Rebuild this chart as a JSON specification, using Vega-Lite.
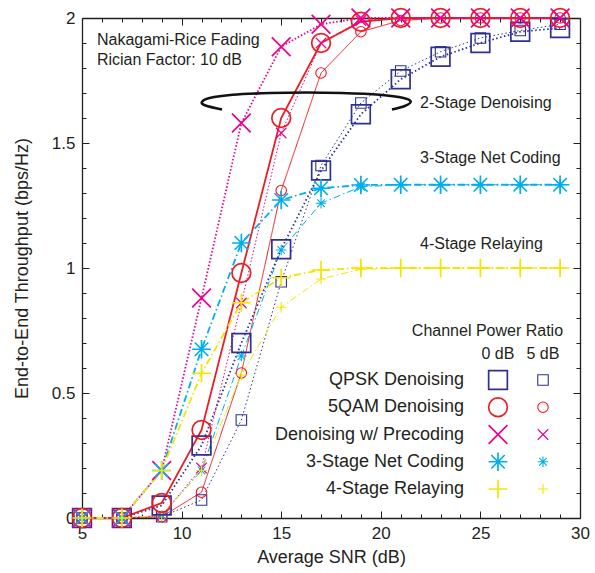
{
  "$schema": "https://vega.github.io/schema/vega-lite/v6.json",
  "width": 498,
  "height": 500,
  "autosize": {"type": "none"},
  "padding": {"left": 82, "top": 18, "right": 15, "bottom": 55},
  "background": "white",
  "config": {
    "view": {"stroke": null},
    "font": "Liberation Sans",
    "axis": {
      "domainColor": "#231f20", "tickColor": "#231f20", "domainWidth": 1.3, "tickWidth": 1,
      "labelColor": "#231f20", "titleColor": "#231f20", "labelFont": "Liberation Sans", "titleFont": "Liberation Sans",
      "labelFontSize": 17, "titleFontSize": 18, "titleFontWeight": "normal", "grid": false, "labelFlush": false, "labelOverlap": false
    },
    "text": {"font": "Liberation Sans", "color": "#231f20", "fontSize": 16}
  },
  "datasets": {
    "tp": [
      {"scheme": "QPSK Denoising", "ratio": "0 dB", "snr": 5, "tp": 0},
      {"scheme": "QPSK Denoising", "ratio": "0 dB", "snr": 7, "tp": 0},
      {"scheme": "QPSK Denoising", "ratio": "0 dB", "snr": 9, "tp": 0.05},
      {"scheme": "QPSK Denoising", "ratio": "0 dB", "snr": 11, "tp": 0.29},
      {"scheme": "QPSK Denoising", "ratio": "0 dB", "snr": 13, "tp": 0.7},
      {"scheme": "QPSK Denoising", "ratio": "0 dB", "snr": 15, "tp": 1.075},
      {"scheme": "QPSK Denoising", "ratio": "0 dB", "snr": 17, "tp": 1.39},
      {"scheme": "QPSK Denoising", "ratio": "0 dB", "snr": 19, "tp": 1.615},
      {"scheme": "QPSK Denoising", "ratio": "0 dB", "snr": 21, "tp": 1.755},
      {"scheme": "QPSK Denoising", "ratio": "0 dB", "snr": 23, "tp": 1.845},
      {"scheme": "QPSK Denoising", "ratio": "0 dB", "snr": 25, "tp": 1.9},
      {"scheme": "QPSK Denoising", "ratio": "0 dB", "snr": 27, "tp": 1.945},
      {"scheme": "QPSK Denoising", "ratio": "0 dB", "snr": 29, "tp": 1.96},
      {"scheme": "QPSK Denoising", "ratio": "5 dB", "snr": 5, "tp": 0},
      {"scheme": "QPSK Denoising", "ratio": "5 dB", "snr": 7, "tp": 0},
      {"scheme": "QPSK Denoising", "ratio": "5 dB", "snr": 9, "tp": 0.005},
      {"scheme": "QPSK Denoising", "ratio": "5 dB", "snr": 11, "tp": 0.072},
      {"scheme": "QPSK Denoising", "ratio": "5 dB", "snr": 13, "tp": 0.392},
      {"scheme": "QPSK Denoising", "ratio": "5 dB", "snr": 15, "tp": 0.945},
      {"scheme": "QPSK Denoising", "ratio": "5 dB", "snr": 17, "tp": 1.41},
      {"scheme": "QPSK Denoising", "ratio": "5 dB", "snr": 19, "tp": 1.66},
      {"scheme": "QPSK Denoising", "ratio": "5 dB", "snr": 21, "tp": 1.788},
      {"scheme": "QPSK Denoising", "ratio": "5 dB", "snr": 23, "tp": 1.865},
      {"scheme": "QPSK Denoising", "ratio": "5 dB", "snr": 25, "tp": 1.92},
      {"scheme": "QPSK Denoising", "ratio": "5 dB", "snr": 27, "tp": 1.95},
      {"scheme": "QPSK Denoising", "ratio": "5 dB", "snr": 29, "tp": 1.975},
      {"scheme": "5QAM Denoising", "ratio": "0 dB", "snr": 5, "tp": 0},
      {"scheme": "5QAM Denoising", "ratio": "0 dB", "snr": 7, "tp": 0},
      {"scheme": "5QAM Denoising", "ratio": "0 dB", "snr": 9, "tp": 0.06},
      {"scheme": "5QAM Denoising", "ratio": "0 dB", "snr": 11, "tp": 0.352},
      {"scheme": "5QAM Denoising", "ratio": "0 dB", "snr": 13, "tp": 0.98},
      {"scheme": "5QAM Denoising", "ratio": "0 dB", "snr": 15, "tp": 1.6},
      {"scheme": "5QAM Denoising", "ratio": "0 dB", "snr": 17, "tp": 1.9},
      {"scheme": "5QAM Denoising", "ratio": "0 dB", "snr": 19, "tp": 1.985},
      {"scheme": "5QAM Denoising", "ratio": "0 dB", "snr": 21, "tp": 2},
      {"scheme": "5QAM Denoising", "ratio": "0 dB", "snr": 23, "tp": 2},
      {"scheme": "5QAM Denoising", "ratio": "0 dB", "snr": 25, "tp": 2},
      {"scheme": "5QAM Denoising", "ratio": "0 dB", "snr": 27, "tp": 2},
      {"scheme": "5QAM Denoising", "ratio": "0 dB", "snr": 29, "tp": 2},
      {"scheme": "5QAM Denoising", "ratio": "5 dB", "snr": 5, "tp": 0},
      {"scheme": "5QAM Denoising", "ratio": "5 dB", "snr": 7, "tp": 0},
      {"scheme": "5QAM Denoising", "ratio": "5 dB", "snr": 9, "tp": 0.005},
      {"scheme": "5QAM Denoising", "ratio": "5 dB", "snr": 11, "tp": 0.103},
      {"scheme": "5QAM Denoising", "ratio": "5 dB", "snr": 13, "tp": 0.58},
      {"scheme": "5QAM Denoising", "ratio": "5 dB", "snr": 15, "tp": 1.31},
      {"scheme": "5QAM Denoising", "ratio": "5 dB", "snr": 17, "tp": 1.78},
      {"scheme": "5QAM Denoising", "ratio": "5 dB", "snr": 19, "tp": 1.945},
      {"scheme": "5QAM Denoising", "ratio": "5 dB", "snr": 21, "tp": 1.99},
      {"scheme": "5QAM Denoising", "ratio": "5 dB", "snr": 23, "tp": 2},
      {"scheme": "5QAM Denoising", "ratio": "5 dB", "snr": 25, "tp": 2},
      {"scheme": "5QAM Denoising", "ratio": "5 dB", "snr": 27, "tp": 2},
      {"scheme": "5QAM Denoising", "ratio": "5 dB", "snr": 29, "tp": 2},
      {"scheme": "Denoising w/ Precoding", "ratio": "0 dB", "snr": 5, "tp": 0},
      {"scheme": "Denoising w/ Precoding", "ratio": "0 dB", "snr": 7, "tp": 0},
      {"scheme": "Denoising w/ Precoding", "ratio": "0 dB", "snr": 9, "tp": 0.19},
      {"scheme": "Denoising w/ Precoding", "ratio": "0 dB", "snr": 11, "tp": 0.88},
      {"scheme": "Denoising w/ Precoding", "ratio": "0 dB", "snr": 13, "tp": 1.58},
      {"scheme": "Denoising w/ Precoding", "ratio": "0 dB", "snr": 15, "tp": 1.885},
      {"scheme": "Denoising w/ Precoding", "ratio": "0 dB", "snr": 17, "tp": 1.975},
      {"scheme": "Denoising w/ Precoding", "ratio": "0 dB", "snr": 19, "tp": 2},
      {"scheme": "Denoising w/ Precoding", "ratio": "0 dB", "snr": 21, "tp": 2},
      {"scheme": "Denoising w/ Precoding", "ratio": "0 dB", "snr": 23, "tp": 2},
      {"scheme": "Denoising w/ Precoding", "ratio": "0 dB", "snr": 25, "tp": 2},
      {"scheme": "Denoising w/ Precoding", "ratio": "0 dB", "snr": 27, "tp": 2},
      {"scheme": "Denoising w/ Precoding", "ratio": "0 dB", "snr": 29, "tp": 2},
      {"scheme": "Denoising w/ Precoding", "ratio": "5 dB", "snr": 5, "tp": 0},
      {"scheme": "Denoising w/ Precoding", "ratio": "5 dB", "snr": 7, "tp": 0},
      {"scheme": "Denoising w/ Precoding", "ratio": "5 dB", "snr": 9, "tp": 0.01},
      {"scheme": "Denoising w/ Precoding", "ratio": "5 dB", "snr": 11, "tp": 0.2},
      {"scheme": "Denoising w/ Precoding", "ratio": "5 dB", "snr": 13, "tp": 0.86},
      {"scheme": "Denoising w/ Precoding", "ratio": "5 dB", "snr": 15, "tp": 1.54},
      {"scheme": "Denoising w/ Precoding", "ratio": "5 dB", "snr": 17, "tp": 1.9},
      {"scheme": "Denoising w/ Precoding", "ratio": "5 dB", "snr": 19, "tp": 1.99},
      {"scheme": "Denoising w/ Precoding", "ratio": "5 dB", "snr": 21, "tp": 2},
      {"scheme": "Denoising w/ Precoding", "ratio": "5 dB", "snr": 23, "tp": 2},
      {"scheme": "Denoising w/ Precoding", "ratio": "5 dB", "snr": 25, "tp": 2},
      {"scheme": "Denoising w/ Precoding", "ratio": "5 dB", "snr": 27, "tp": 2},
      {"scheme": "Denoising w/ Precoding", "ratio": "5 dB", "snr": 29, "tp": 2},
      {"scheme": "3-Stage Net Coding", "ratio": "0 dB", "snr": 5, "tp": 0},
      {"scheme": "3-Stage Net Coding", "ratio": "0 dB", "snr": 7, "tp": 0},
      {"scheme": "3-Stage Net Coding", "ratio": "0 dB", "snr": 9, "tp": 0.19},
      {"scheme": "3-Stage Net Coding", "ratio": "0 dB", "snr": 11, "tp": 0.675},
      {"scheme": "3-Stage Net Coding", "ratio": "0 dB", "snr": 13, "tp": 1.1},
      {"scheme": "3-Stage Net Coding", "ratio": "0 dB", "snr": 15, "tp": 1.272},
      {"scheme": "3-Stage Net Coding", "ratio": "0 dB", "snr": 17, "tp": 1.319},
      {"scheme": "3-Stage Net Coding", "ratio": "0 dB", "snr": 19, "tp": 1.332},
      {"scheme": "3-Stage Net Coding", "ratio": "0 dB", "snr": 21, "tp": 1.333},
      {"scheme": "3-Stage Net Coding", "ratio": "0 dB", "snr": 23, "tp": 1.333},
      {"scheme": "3-Stage Net Coding", "ratio": "0 dB", "snr": 25, "tp": 1.333},
      {"scheme": "3-Stage Net Coding", "ratio": "0 dB", "snr": 27, "tp": 1.333},
      {"scheme": "3-Stage Net Coding", "ratio": "0 dB", "snr": 29, "tp": 1.333},
      {"scheme": "3-Stage Net Coding", "ratio": "5 dB", "snr": 5, "tp": 0},
      {"scheme": "3-Stage Net Coding", "ratio": "5 dB", "snr": 7, "tp": 0},
      {"scheme": "3-Stage Net Coding", "ratio": "5 dB", "snr": 9, "tp": 0.01},
      {"scheme": "3-Stage Net Coding", "ratio": "5 dB", "snr": 11, "tp": 0.19},
      {"scheme": "3-Stage Net Coding", "ratio": "5 dB", "snr": 13, "tp": 0.648},
      {"scheme": "3-Stage Net Coding", "ratio": "5 dB", "snr": 15, "tp": 1.072},
      {"scheme": "3-Stage Net Coding", "ratio": "5 dB", "snr": 17, "tp": 1.259},
      {"scheme": "3-Stage Net Coding", "ratio": "5 dB", "snr": 19, "tp": 1.325},
      {"scheme": "3-Stage Net Coding", "ratio": "5 dB", "snr": 21, "tp": 1.333},
      {"scheme": "3-Stage Net Coding", "ratio": "5 dB", "snr": 23, "tp": 1.333},
      {"scheme": "3-Stage Net Coding", "ratio": "5 dB", "snr": 25, "tp": 1.333},
      {"scheme": "3-Stage Net Coding", "ratio": "5 dB", "snr": 27, "tp": 1.333},
      {"scheme": "3-Stage Net Coding", "ratio": "5 dB", "snr": 29, "tp": 1.333},
      {"scheme": "4-Stage Relaying", "ratio": "0 dB", "snr": 5, "tp": 0},
      {"scheme": "4-Stage Relaying", "ratio": "0 dB", "snr": 7, "tp": 0},
      {"scheme": "4-Stage Relaying", "ratio": "0 dB", "snr": 9, "tp": 0.19},
      {"scheme": "4-Stage Relaying", "ratio": "0 dB", "snr": 11, "tp": 0.579},
      {"scheme": "4-Stage Relaying", "ratio": "0 dB", "snr": 13, "tp": 0.861},
      {"scheme": "4-Stage Relaying", "ratio": "0 dB", "snr": 15, "tp": 0.961},
      {"scheme": "4-Stage Relaying", "ratio": "0 dB", "snr": 17, "tp": 0.992},
      {"scheme": "4-Stage Relaying", "ratio": "0 dB", "snr": 19, "tp": 1.0},
      {"scheme": "4-Stage Relaying", "ratio": "0 dB", "snr": 21, "tp": 1.0},
      {"scheme": "4-Stage Relaying", "ratio": "0 dB", "snr": 23, "tp": 1.0},
      {"scheme": "4-Stage Relaying", "ratio": "0 dB", "snr": 25, "tp": 1.0},
      {"scheme": "4-Stage Relaying", "ratio": "0 dB", "snr": 27, "tp": 1.0},
      {"scheme": "4-Stage Relaying", "ratio": "0 dB", "snr": 29, "tp": 1.0},
      {"scheme": "4-Stage Relaying", "ratio": "5 dB", "snr": 5, "tp": 0},
      {"scheme": "4-Stage Relaying", "ratio": "5 dB", "snr": 7, "tp": 0},
      {"scheme": "4-Stage Relaying", "ratio": "5 dB", "snr": 9, "tp": 0.01},
      {"scheme": "4-Stage Relaying", "ratio": "5 dB", "snr": 11, "tp": 0.19},
      {"scheme": "4-Stage Relaying", "ratio": "5 dB", "snr": 13, "tp": 0.572},
      {"scheme": "4-Stage Relaying", "ratio": "5 dB", "snr": 15, "tp": 0.843},
      {"scheme": "4-Stage Relaying", "ratio": "5 dB", "snr": 17, "tp": 0.956},
      {"scheme": "4-Stage Relaying", "ratio": "5 dB", "snr": 19, "tp": 0.995},
      {"scheme": "4-Stage Relaying", "ratio": "5 dB", "snr": 21, "tp": 1.0},
      {"scheme": "4-Stage Relaying", "ratio": "5 dB", "snr": 23, "tp": 1.0},
      {"scheme": "4-Stage Relaying", "ratio": "5 dB", "snr": 25, "tp": 1.0},
      {"scheme": "4-Stage Relaying", "ratio": "5 dB", "snr": 27, "tp": 1.0},
      {"scheme": "4-Stage Relaying", "ratio": "5 dB", "snr": 29, "tp": 1.0}
    ],
    "ell": [
      {"ord": 0, "ex": 12.03, "ey": 1.634},
      {"ord": 1, "ex": 11.2, "ey": 1.65},
      {"ord": 2, "ex": 11.02, "ey": 1.664},
      {"ord": 3, "ex": 11.4, "ey": 1.68},
      {"ord": 4, "ex": 12.56, "ey": 1.693},
      {"ord": 5, "ex": 14.46, "ey": 1.7},
      {"ord": 6, "ex": 16.25, "ey": 1.702},
      {"ord": 7, "ex": 18.03, "ey": 1.7},
      {"ord": 8, "ex": 19.94, "ey": 1.693},
      {"ord": 9, "ex": 21.15, "ey": 1.68},
      {"ord": 10, "ex": 21.5, "ey": 1.665},
      {"ord": 11, "ex": 21.2, "ey": 1.648},
      {"ord": 12, "ex": 20.56, "ey": 1.634}
    ],
    "leg": [
      {"scheme": "QPSK Denoising", "ratio": "0 dB"},
      {"scheme": "QPSK Denoising", "ratio": "5 dB"},
      {"scheme": "5QAM Denoising", "ratio": "0 dB"},
      {"scheme": "5QAM Denoising", "ratio": "5 dB"},
      {"scheme": "Denoising w/ Precoding", "ratio": "0 dB"},
      {"scheme": "Denoising w/ Precoding", "ratio": "5 dB"},
      {"scheme": "3-Stage Net Coding", "ratio": "0 dB"},
      {"scheme": "3-Stage Net Coding", "ratio": "5 dB"},
      {"scheme": "4-Stage Relaying", "ratio": "0 dB"},
      {"scheme": "4-Stage Relaying", "ratio": "5 dB"}
    ]
  },
  "layer": [
    {
      "layer": [
        {
          "data": {"name": "tp"},
          "transform": [{"filter": "datum.ratio === '5 dB'"}],
          "mark": {"type": "line", "strokeWidth": 1, "clip": false},
          "encoding": {
            "x": {"field": "snr", "type": "quantitative", "scale": {"domain": [5, 30], "nice": false, "zero": false},
              "axis": {"orient": "bottom", "values": [5,6,7,8,9,10,11,12,13,14,15,16,17,18,19,20,21,22,23,24,25,26,27,28,29,30],
                "tickSize": {"condition": {"test": "datum.value % 5 === 0", "value": -7}, "value": -4},
                "labelExpr": "datum.value % 5 === 0 ? datum.label : ''", "labelPadding": 14,
                "title": "Average SNR (dB)", "titlePadding": 4}},
            "y": {"field": "tp", "type": "quantitative", "scale": {"domain": [0, 2], "nice": false},
              "axis": {"orient": "left", "values": [0,0.1,0.2,0.3,0.4,0.5,0.6,0.7,0.8,0.9,1,1.1,1.2,1.3,1.4,1.5,1.6,1.7,1.8,1.9,2],
                "tickSize": {"condition": {"test": "datum.value % 0.5 === 0", "value": -7}, "value": -4},
                "labelExpr": "datum.value % 0.5 === 0 ? format(datum.value, '~g') : ''", "labelPadding": 14,
                "title": "End-to-End Throughput (bps/Hz)", "titlePadding": 20}},
            "color": {"field": "scheme", "type": "nominal", "legend": null,
              "scale": {"domain": ["QPSK Denoising", "5QAM Denoising", "Denoising w/ Precoding", "3-Stage Net Coding", "4-Stage Relaying"],
                "range": ["#2e3192", "#ed1c24", "#ec008c", "#00aeef", "#f2e600"]}},
            "strokeDash": {"field": "scheme", "type": "nominal", "legend": null,
              "scale": {"domain": ["QPSK Denoising", "5QAM Denoising", "Denoising w/ Precoding", "3-Stage Net Coding", "4-Stage Relaying"],
                "range": [[1.5, 2.5], [1, 0], [1.5, 2], [7, 3, 1.5, 3], [7, 3, 1.5, 3]]}},
            "order": {"field": "snr", "type": "quantitative"}
          }
        },
        {
          "data": {"name": "tp"},
          "transform": [{"filter": "datum.ratio === '0 dB'"}],
          "mark": {"type": "line", "strokeWidth": 1.8, "clip": false},
          "encoding": {
            "x": {"field": "snr", "type": "quantitative", "scale": {"domain": [5, 30], "nice": false, "zero": false}, "axis": null},
            "y": {"field": "tp", "type": "quantitative", "scale": {"domain": [0, 2], "nice": false}, "axis": null},
            "color": {"field": "scheme", "type": "nominal", "legend": null},
            "strokeDash": {"field": "scheme", "type": "nominal", "legend": null},
            "order": {"field": "snr", "type": "quantitative"}
          }
        },
        {
          "data": {"name": "ell"},
          "mark": {"type": "line", "color": "#111111", "strokeWidth": 2.6, "interpolate": "cardinal", "clip": false},
          "encoding": {
            "x": {"field": "ex", "type": "quantitative", "scale": {"domain": [5, 30], "nice": false, "zero": false}, "axis": null},
            "y": {"field": "ey", "type": "quantitative", "scale": {"domain": [0, 2], "nice": false}, "axis": null},
            "order": {"field": "ord", "type": "quantitative"}
          }
        },
        {
          "data": {"name": "tp"},
          "transform": [{"filter": "datum.ratio === '5 dB'"}],
          "mark": {"type": "point", "filled": false, "opacity": 1, "size": 110, "strokeWidth": 1.1, "clip": false},
          "encoding": {
            "x": {"field": "snr", "type": "quantitative", "scale": {"domain": [5, 30], "nice": false, "zero": false},
              "axis": {"orient": "top", "values": [5,6,7,8,9,10,11,12,13,14,15,16,17,18,19,20,21,22,23,24,25,26,27,28,29,30],
                "tickSize": {"condition": {"test": "datum.value % 5 === 0", "value": -7}, "value": -4},
                "labels": false, "title": null}},
            "y": {"field": "tp", "type": "quantitative", "scale": {"domain": [0, 2], "nice": false},
              "axis": {"orient": "right", "values": [0,0.1,0.2,0.3,0.4,0.5,0.6,0.7,0.8,0.9,1,1.1,1.2,1.3,1.4,1.5,1.6,1.7,1.8,1.9,2],
                "tickSize": {"condition": {"test": "datum.value % 0.5 === 0", "value": -7}, "value": -4},
                "labels": false, "title": null}},
            "color": {"field": "scheme", "type": "nominal", "legend": null},
            "shape": {"field": "scheme", "type": "nominal", "legend": null,
              "scale": {"domain": ["QPSK Denoising", "5QAM Denoising", "Denoising w/ Precoding", "3-Stage Net Coding", "4-Stage Relaying"],
                "range": ["square", "circle", "M-1,-1L1,1M-1,1L1,-1", "M-1,0L1,0M0,-1L0,1M-0.72,-0.72L0.72,0.72M-0.72,0.72L0.72,-0.72", "M-1,0L1,0M0,-1L0,1"]}}
          }
        },
        {
          "data": {"name": "tp"},
          "transform": [{"filter": "datum.ratio === '0 dB'"}],
          "mark": {"type": "point", "filled": false, "opacity": 1, "size": 350, "strokeWidth": 1.7, "clip": false},
          "encoding": {
            "x": {"field": "snr", "type": "quantitative", "scale": {"domain": [5, 30], "nice": false, "zero": false}, "axis": null},
            "y": {"field": "tp", "type": "quantitative", "scale": {"domain": [0, 2], "nice": false}, "axis": null},
            "color": {"field": "scheme", "type": "nominal", "legend": null},
            "shape": {"field": "scheme", "type": "nominal", "legend": null}
          }
        },
        {
          "data": {"values": [{}]},
          "mark": {"type": "text", "align": "left", "baseline": "middle", "fontSize": 16, "text": "Nakagami-Rice Fading"},
          "encoding": {"x": {"datum": 5.75, "type": "quantitative", "axis": null}, "y": {"datum": 1.914, "type": "quantitative", "axis": null}}
        },
        {
          "data": {"values": [{}]},
          "mark": {"type": "text", "align": "left", "baseline": "middle", "fontSize": 16, "text": "Rician Factor: 10 dB"},
          "encoding": {"x": {"datum": 5.75, "type": "quantitative", "axis": null}, "y": {"datum": 1.834, "type": "quantitative", "axis": null}}
        },
        {
          "data": {"values": [{}]},
          "mark": {"type": "text", "align": "left", "baseline": "middle", "fontSize": 16, "text": "2-Stage Denoising"},
          "encoding": {"x": {"datum": 21.97, "type": "quantitative", "axis": null}, "y": {"datum": 1.66, "type": "quantitative", "axis": null}}
        },
        {
          "data": {"values": [{}]},
          "mark": {"type": "text", "align": "left", "baseline": "middle", "fontSize": 16, "text": "3-Stage Net Coding"},
          "encoding": {"x": {"datum": 21.97, "type": "quantitative", "axis": null}, "y": {"datum": 1.439, "type": "quantitative", "axis": null}}
        },
        {
          "data": {"values": [{}]},
          "mark": {"type": "text", "align": "left", "baseline": "middle", "fontSize": 16, "text": "4-Stage Relaying"},
          "encoding": {"x": {"datum": 21.97, "type": "quantitative", "axis": null}, "y": {"datum": 1.096, "type": "quantitative", "axis": null}}
        },
        {
          "data": {"values": [{}]},
          "mark": {"type": "text", "align": "right", "baseline": "middle", "fontSize": 16, "text": "Channel Power Ratio"},
          "encoding": {"x": {"datum": 29.15, "type": "quantitative", "axis": null}, "y": {"datum": 0.75, "type": "quantitative", "axis": null}}
        },
        {
          "data": {"values": [{}]},
          "mark": {"type": "text", "align": "center", "baseline": "middle", "fontSize": 16, "text": "0 dB"},
          "encoding": {"x": {"datum": 25.88, "type": "quantitative", "axis": null}, "y": {"datum": 0.657, "type": "quantitative", "axis": null}}
        },
        {
          "data": {"values": [{}]},
          "mark": {"type": "text", "align": "center", "baseline": "middle", "fontSize": 16, "text": "5 dB"},
          "encoding": {"x": {"datum": 28.14, "type": "quantitative", "axis": null}, "y": {"datum": 0.657, "type": "quantitative", "axis": null}}
        }
      ],
      "resolve": {"axis": {"x": "independent", "y": "independent"}}
    },
    {
      "data": {"name": "leg"},
      "layer": [
        {
          "transform": [{"filter": "datum.ratio === '0 dB'"}],
          "mark": {"type": "point", "filled": false, "opacity": 1, "size": 350, "strokeWidth": 1.7},
          "encoding": {
            "x": {"field": "ratio", "type": "nominal", "scale": {"type": "point", "domain": ["0 dB", "5 dB"], "range": [416, 461], "padding": 0}, "axis": null},
            "y": {"field": "scheme", "type": "nominal", "scale": {"type": "point", "domain": ["QPSK Denoising", "5QAM Denoising", "Denoising w/ Precoding", "3-Stage Net Coding", "4-Stage Relaying"], "range": [362, 471], "padding": 0}, "axis": null},
            "color": {"field": "scheme", "type": "nominal", "legend": null},
            "shape": {"field": "scheme", "type": "nominal", "legend": null}
          }
        },
        {
          "transform": [{"filter": "datum.ratio === '5 dB'"}],
          "mark": {"type": "point", "filled": false, "opacity": 1, "size": 110, "strokeWidth": 1.1},
          "encoding": {
            "x": {"field": "ratio", "type": "nominal", "axis": null},
            "y": {"field": "scheme", "type": "nominal", "axis": null},
            "color": {"field": "scheme", "type": "nominal", "legend": null},
            "shape": {"field": "scheme", "type": "nominal", "legend": null}
          }
        },
        {
          "transform": [{"filter": "datum.ratio === '0 dB'"}],
          "mark": {"type": "text", "align": "right", "baseline": "middle", "fontSize": 18, "dx": -34},
          "encoding": {
            "x": {"field": "ratio", "type": "nominal", "axis": null},
            "y": {"field": "scheme", "type": "nominal", "axis": null},
            "text": {"field": "scheme", "type": "nominal"}
          }
        }
      ]
    }
  ],
  "resolve": {"scale": {"x": "independent", "y": "independent"}}
}
